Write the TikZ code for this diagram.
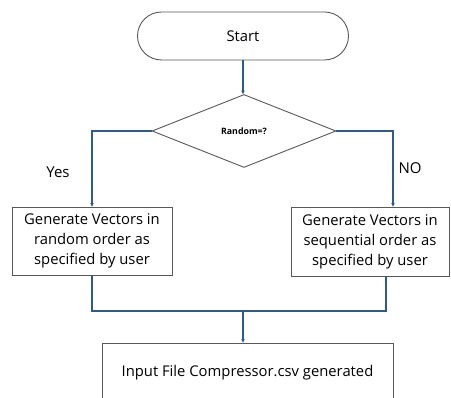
\documentclass[tikz,border=0pt]{standalone}
\usepackage{fontspec}
\setmainfont{Open Sans}
\usetikzlibrary{shapes.geometric,arrows.meta}
\definecolor{flowblue}{HTML}{2F5A8C}
\definecolor{edgegray}{HTML}{595959}
\begin{document}
\begin{tikzpicture}[x=1pt,y=1pt,
  box/.style={draw=edgegray,line width=0.9pt,fill=white,inner sep=0pt,
    align=center,font=\fontsize{14.8}{20}\selectfont},
  link/.style={draw=flowblue,line width=1.3pt},
  arr/.style={link,-{Stealth[length=3.5pt,width=3.5pt]}},
  lbl/.style={font=\fontsize{15}{18}\selectfont}]
\useasboundingbox (0,0) rectangle (451,398);
\clip (0,0) rectangle (451,398);
% process shapes
\node[box,rounded corners=24pt,minimum width=211pt,minimum height=48pt] (start) at (243,362) {Start};
\node[box,diamond,minimum width=184pt,minimum height=73pt,font=\fontsize{8.8}{10}\selectfont\bfseries] (dia) at (244,267) {Random=?};
\node[box,minimum width=160pt,minimum height=68pt] (lbox) at (92,157) {Generate Vectors in\\random order as\\specified by user};
\node[box,minimum width=158pt,minimum height=69pt] (rbox) at (370,156.5) {Generate Vectors in\\sequential order as\\specified by user};
\node[box,minimum width=291pt,minimum height=60pt] (out) at (247.5,25) {Input File Compressor.csv generated};
% branch labels
\node[lbl] (yes) at (58,226) {Yes};
\node[lbl] (no) at (410,230) {NO};
% connectors
\coordinate (join) at (243,87);
\draw[arr] (start.south) -- (start.south |- dia.north);
\draw[arr] (dia.west) -| (lbox.north);
\draw[arr] (dia.east) -| ([xshift=23pt]rbox.north);
\draw[link] (lbox.south) |- (join) -| ([xshift=16pt]rbox.south);
\draw[arr] (join) -- (join |- out.north);
\end{tikzpicture}
\end{document}
